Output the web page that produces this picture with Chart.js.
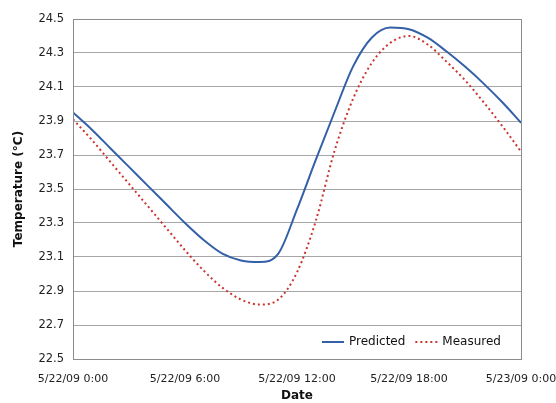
<html>
<body style="margin:0;background:#fff">
<script src="https://cdn.jsdelivr.net/npm/chart.js@4/dist/chart.umd.min.js"></script>
<div style="width:556px;height:403px"><canvas id="myChart" width="556" height="403"></canvas></div>
<script>
// hours after 5/22/09 0:00
let hours = [0,1,2,3,4,5,6,7,8,9,10,11,12,13,14,15,16,17,18,19,20,21,22,23,24];
let predicted = [23.95,23.85,23.74,23.63,23.52,23.41,23.30,23.20,23.12,23.08,23.07,23.12,23.38,23.67,23.95,24.22,24.39,24.45,24.44,24.39,24.31,24.22,24.12,24.01,23.89];
let measured = [23.91,23.79,23.66,23.53,23.40,23.27,23.14,23.02,22.92,22.85,22.82,22.85,23.01,23.31,23.72,24.03,24.24,24.36,24.40,24.35,24.25,24.14,24.01,23.87,23.72];
let xTickLabels = {0:'5/22/09 0:00', 6:'5/22/09 6:00', 12:'5/22/09 12:00', 18:'5/22/09 18:00', 24:'5/23/09 0:00'};
let yTicks = [22.5,22.7,22.9,23.1,23.3,23.5,23.7,23.9,24.1,24.3,24.5];

const font = 'DejaVu Sans, sans-serif';

// frame round the plot + legend inside bottom right
const frame = {
  id: 'frame',
  afterDraw(chart) {
    let c = chart.ctx, a = chart.chartArea;
    c.save();
    c.strokeStyle = '#8c8c8c';
    c.lineWidth = 1;
    c.strokeRect(a.left + 0.5, a.top + 0.5, a.right - a.left, a.bottom - a.top);
    // legend
    let y = a.bottom - 17;
    let x = 322;
    c.font = '12px ' + font;
    c.textBaseline = 'middle';
    chart.data.datasets.forEach(ds => {
      c.beginPath();
      c.strokeStyle = ds.borderColor;
      c.lineWidth = 2;
      c.setLineDash(ds.borderDash || []);
      c.moveTo(x, y);
      c.lineTo(x + 22, y);
      c.stroke();
      c.setLineDash([]);
      c.fillStyle = '#111';
      c.fillText(ds.label, x + 27, y);
      x += 27 + c.measureText(ds.label).width + 10;
    });
    c.restore();
  }
};

let ctx = document.getElementById('myChart').getContext('2d');
let myChart = new Chart(ctx, {
  type: 'line',
  data: {
    datasets: [{
      label: 'Predicted',
      data: hours.map((h, i) => ({x: h, y: predicted[i]})),
      borderColor: '#3460a8',
      borderWidth: 2,
      pointRadius: 0,
      cubicInterpolationMode: 'monotone'
    },
    {
      label: 'Measured',
      data: hours.map((h, i) => ({x: h, y: measured[i]})),
      borderColor: '#c8362f',
      borderWidth: 2,
      borderDash: [2, 3],
      pointRadius: 0,
      cubicInterpolationMode: 'monotone'
    }]
  },
  options: {
    responsive: false,
    animation: false,
    layout: { padding: { top: 19, right: 35, left: 0, bottom: 0 } },
    plugins: { legend: { display: false }, tooltip: { enabled: false } },
    scales: {
      x: {
        type: 'linear', min: 0, max: 24,
        afterFit(s) { s.height = 44; s.paddingLeft = 0; s.paddingRight = 0; },
        afterBuildTicks(s) { s.ticks = Object.keys(xTickLabels).map(v => ({value: +v})); },
        ticks: { callback: v => xTickLabels[v], color: '#222', font: { family: font, size: 11 }, padding: 6, maxRotation: 0, autoSkip: false },
        grid: { display: false },
        border: { color: '#8c8c8c' },
        title: { display: true, text: 'Date', color: '#111', font: { family: font, size: 12, weight: 'bold' }, padding: { top: 3, bottom: 0 } }
      },
      y: {
        min: 22.5, max: 24.5,
        afterFit(s) { s.width = 73; },
        afterBuildTicks(s) { s.ticks = yTicks.map(v => ({value: v})); },
        ticks: { callback: v => v.toFixed(1), color: '#222', font: { family: font, size: 11.5 }, padding: 9 },
        grid: { color: '#a6a6a6', drawTicks: false },
        border: { color: '#8c8c8c' },
        title: { display: true, text: 'Temperature (°C)', color: '#111', font: { family: font, size: 12, weight: 'bold' }, padding: { top: 12, bottom: 0 } }
      }
    }
  },
  plugins: [frame]
});
</script>
</body>
</html>
